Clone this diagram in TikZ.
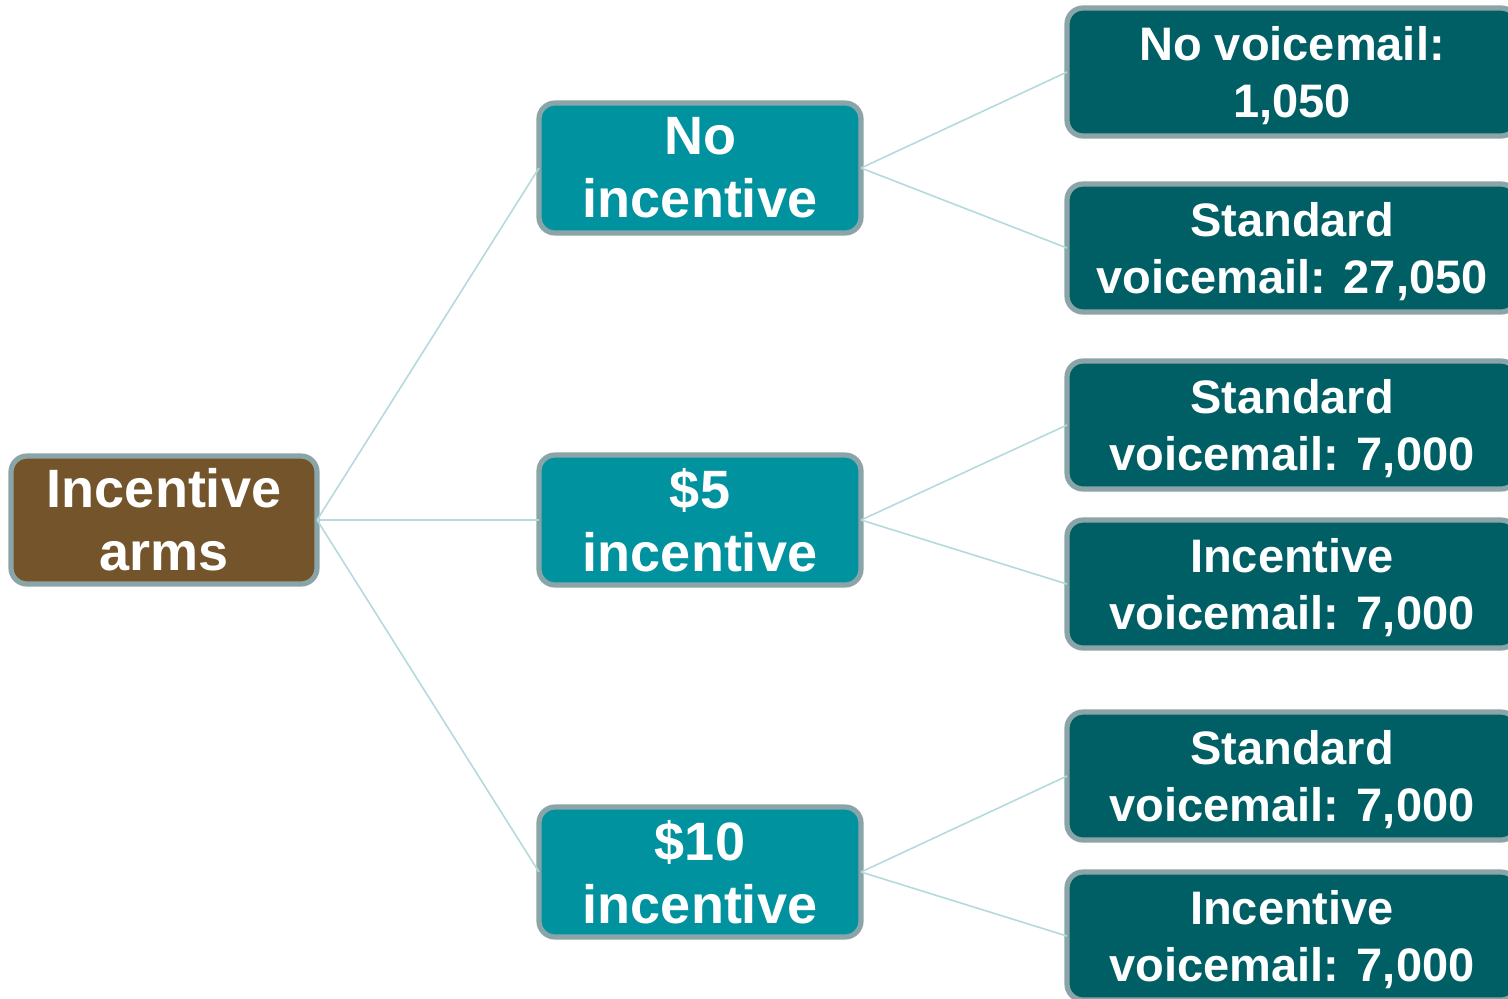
\documentclass[tikz,border=0pt]{standalone}
\usepackage{fontspec}
\setmainfont{Liberation Sans}
\definecolor{armbrown}{HTML}{74552B}
\definecolor{armteal}{HTML}{00929F}
\definecolor{armdark}{HTML}{005F65}
\definecolor{armedge}{HTML}{8BA4A7}
\definecolor{armlink}{HTML}{B4DADE}
% taller first line, pushes the leaf text a little down
\newcommand{\leafstrut}{\rule{0pt}{21pt}}
\begin{document}
\begin{tikzpicture}[x=0.5pt,y=-0.5pt]
    \tikzset{
        box/.style={
            draw=armedge,line width=2.6pt,rounded corners=8pt,
            text=white,align=center,inner sep=0pt,outer sep=0pt,
            font=\bfseries\fontsize{27}{31.5}\selectfont
        },
        root/.style={box,fill=armbrown,minimum width=153pt,minimum height=64pt},
        arm/.style={box,fill=armteal,minimum width=161pt,minimum height=65pt},
        leaf/.style={box,fill=armdark,minimum width=225pt,minimum height=64pt,
            font=\bfseries\fontsize{23.5}{28.5}\selectfont},
        link/.style={draw=armlink,line width=0.8pt}
    }
    \useasboundingbox (0,0) rectangle (1508,998);

    \node[root] (arms) at (164,520) {Incentive\\arms};

    \node[arm] (no-inc) at (700,168) {No\\incentive};
    \node[arm] (inc-5) at (700,520) {\$5\\incentive};
    \node[arm] (inc-10) at (700,872) {\$10\\incentive};

    \node[leaf] (no-vm) at (1292,72) {\leafstrut No voicemail:\\1,050};
    \node[leaf] (no-std) at (1292,248) {\leafstrut Standard\\voicemail: 27,050};
    \node[leaf] (five-std) at (1292,425) {\leafstrut Standard\\voicemail: 7,000};
    \node[leaf] (five-inc) at (1292,584) {\leafstrut Incentive\\voicemail: 7,000};
    \node[leaf] (ten-std) at (1292,776) {\leafstrut Standard\\voicemail: 7,000};
    \node[leaf] (ten-inc) at (1292,936) {\leafstrut Incentive\\voicemail: 7,000};

    \draw[link] (arms.east) -- (no-inc.west);
    \draw[link] (arms.east) -- (inc-5.west);
    \draw[link] (arms.east) -- (inc-10.west);

    \draw[link] (no-inc.east) -- (no-vm.west);
    \draw[link] (no-inc.east) -- (no-std.west);
    \draw[link] (inc-5.east) -- (five-std.west);
    \draw[link] (inc-5.east) -- (five-inc.west);
    \draw[link] (inc-10.east) -- (ten-std.west);
    \draw[link] (inc-10.east) -- (ten-inc.west);
\end{tikzpicture}
\end{document}
